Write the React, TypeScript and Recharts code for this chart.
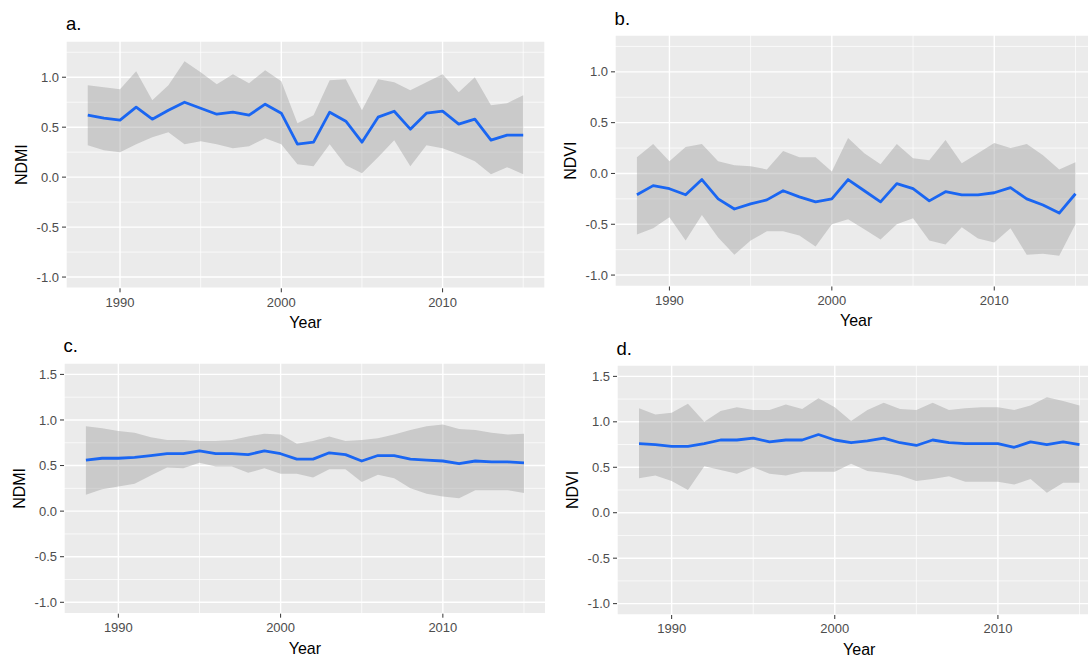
import {
  ComposedChart,
  Area,
  Line,
  XAxis,
  YAxis,
  CartesianGrid,
  ReferenceLine,
  Label,
} from "recharts";

const years = [
  1988, 1989, 1990, 1991, 1992, 1993, 1994, 1995, 1996, 1997, 1998, 1999, 2000, 2001,
  2002, 2003, 2004, 2005, 2006, 2007, 2008, 2009, 2010, 2011, 2012, 2013, 2014, 2015,
];

// a. NDMI (top left)
const aMean = [
  0.62, 0.59, 0.57, 0.7, 0.58, 0.67, 0.75, 0.69, 0.63, 0.65, 0.62, 0.73, 0.64, 0.33,
  0.35, 0.65, 0.56, 0.35, 0.6, 0.66, 0.48, 0.64, 0.66, 0.53, 0.58, 0.37, 0.42, 0.42,
];
const aHigh = [
  0.92, 0.9, 0.88, 1.06, 0.77, 0.92, 1.16, 1.05, 0.93, 1.03, 0.94, 1.07, 0.96, 0.54,
  0.62, 0.97, 0.98, 0.67, 0.98, 0.95, 0.87, 0.95, 1.03, 0.85, 1.0, 0.72, 0.74, 0.82,
];
const aLow = [
  0.32, 0.27, 0.25, 0.33, 0.4, 0.45, 0.33, 0.36, 0.33, 0.29, 0.31, 0.39, 0.33, 0.13,
  0.11, 0.33, 0.12, 0.04, 0.2, 0.37, 0.11, 0.32, 0.29, 0.23, 0.16, 0.03, 0.1, 0.03,
];

// b. NDVI (top right)
const bMean = [
  -0.21, -0.12, -0.15, -0.21, -0.06, -0.25, -0.35, -0.3, -0.26, -0.17, -0.23, -0.28,
  -0.25, -0.06, -0.17, -0.28, -0.1, -0.15, -0.27, -0.18, -0.21, -0.21, -0.19, -0.14,
  -0.25, -0.31, -0.39, -0.2,
];
const bHigh = [
  0.16, 0.29, 0.12, 0.26, 0.29, 0.12, 0.08, 0.07, 0.04, 0.22, 0.16, 0.16, 0.02, 0.35,
  0.2, 0.09, 0.29, 0.15, 0.13, 0.33, 0.1, 0.2, 0.3, 0.25, 0.29, 0.18, 0.04, 0.11,
];
const bLow = [
  -0.6, -0.54, -0.43, -0.66, -0.41, -0.63, -0.8, -0.66, -0.57, -0.57, -0.61, -0.72,
  -0.5, -0.45, -0.55, -0.65, -0.5, -0.44, -0.66, -0.7, -0.53, -0.64, -0.68, -0.54,
  -0.8, -0.79, -0.81, -0.5,
];

// c. NDMI (bottom left)
const cMean = [
  0.56, 0.58, 0.58, 0.59, 0.61, 0.63, 0.63, 0.66, 0.63, 0.63, 0.62, 0.66, 0.63, 0.57,
  0.57, 0.64, 0.62, 0.55, 0.61, 0.61, 0.57, 0.56, 0.55, 0.52, 0.55, 0.54, 0.54, 0.53,
];
const cHigh = [
  0.93, 0.91, 0.88, 0.86, 0.81, 0.78, 0.78, 0.77, 0.77, 0.78, 0.82, 0.85, 0.84, 0.74,
  0.77, 0.82, 0.77, 0.78, 0.8, 0.84, 0.89, 0.93, 0.95, 0.9, 0.89, 0.86, 0.84, 0.85,
];
const cLow = [
  0.18, 0.24, 0.27, 0.3, 0.39, 0.48, 0.47, 0.53, 0.49, 0.49, 0.42, 0.47, 0.41, 0.41,
  0.37, 0.46, 0.46, 0.32, 0.4, 0.36, 0.25, 0.19, 0.16, 0.14, 0.23, 0.23, 0.23, 0.2,
];

// d. NDVI (bottom right)
const dMean = [
  0.76, 0.75, 0.73, 0.73, 0.76, 0.8, 0.8, 0.82, 0.78, 0.8, 0.8, 0.86, 0.8, 0.77, 0.79,
  0.82, 0.77, 0.74, 0.8, 0.77, 0.76, 0.76, 0.76, 0.72, 0.78, 0.75, 0.78, 0.75,
];
const dHigh = [
  1.15, 1.08, 1.1, 1.2, 1.0, 1.12, 1.16, 1.13, 1.13, 1.19, 1.14, 1.26, 1.16, 1.01,
  1.13, 1.21, 1.14, 1.13, 1.21, 1.13, 1.15, 1.16, 1.16, 1.13, 1.18, 1.27, 1.23, 1.18,
];
const dLow = [
  0.38, 0.41, 0.35, 0.25, 0.51, 0.47, 0.43, 0.5, 0.43, 0.41, 0.45, 0.45, 0.45, 0.54,
  0.46, 0.44, 0.41, 0.35, 0.37, 0.4, 0.34, 0.34, 0.34, 0.31, 0.37, 0.22, 0.33, 0.33,
];

const xTicks = [1990, 2000, 2010];
const xMinor = [1995, 2005, 2015];
const yTicksTop = [-1, -0.5, 0, 0.5, 1];
const yTicksBottom = [-1, -0.5, 0, 0.5, 1, 1.5];
const yMinor = [-0.75, -0.25, 0.25, 0.75, 1.25];

const FONT = '"Liberation Sans", Arial, Helvetica, sans-serif';
const Y_AXIS_W = 70;
const X_AXIS_H = 50;

interface PanelProps {
  tag: string;
  yLabel: string;
  mean: number[];
  low: number[];
  high: number[];
  left: number;
  top: number;
  width: number;
  height: number;
  yDomain: [number, number];
  yTicks: number[];
}

function Panel({ tag, yLabel, mean, low, high, left, top, width, height, yDomain, yTicks }: PanelProps) {
  const data = years.map((year, i) => ({ year, mean: mean[i], band: [low[i], high[i]] }));

  return (
    <>
      <div
        style={{
          position: "absolute",
          left: left,
          top: top - 25.5,
          fontSize: 18.5,
          lineHeight: "18.5px",
          color: "#000",
        }}
      >
        {tag}
      </div>
      <div style={{ position: "absolute", left: left - Y_AXIS_W, top: top }}>
        <ComposedChart
          width={width + Y_AXIS_W}
          height={height + X_AXIS_H}
          data={data}
          margin={{ top: 0, right: 0, bottom: 0, left: 0 }}
        >
          <CartesianGrid fill="#EBEBEB" stroke="#FFFFFF" strokeWidth={1.4} />
          {yMinor
            .filter((v) => v < yDomain[1])
            .map((v) => (
              <ReferenceLine key={`my${v}`} y={v} stroke="#FFFFFF" strokeWidth={0.7} zIndex={-50} />
            ))}
          {xMinor.map((v) => (
            <ReferenceLine key={`mx${v}`} x={v} stroke="#FFFFFF" strokeWidth={0.7} zIndex={-50} />
          ))}
          <XAxis
            dataKey="year"
            type="number"
            domain={[1986.65, 2016.35]}
            allowDataOverflow
            ticks={xTicks}
            interval={0}
            height={X_AXIS_H}
            axisLine={false}
            tickSize={4}
            tickMargin={5}
            tickLine={{ stroke: "#333333" }}
            tick={{ fill: "#4D4D4D", fontSize: 13 }}
          >
            <Label
              content={(props: any) => {
                const vb = props.viewBox;
                return (
                  <text x={vb.x + vb.width / 2} y={vb.y + 40} textAnchor="middle" fontSize={16} fill="#000">
                    Year
                  </text>
                );
              }}
            />
          </XAxis>
          <YAxis
            type="number"
            domain={yDomain}
            allowDataOverflow
            ticks={yTicks}
            interval={0}
            width={Y_AXIS_W}
            axisLine={false}
            tickSize={4}
            tickMargin={3}
            tickLine={{ stroke: "#333333" }}
            tick={{ fill: "#4D4D4D", fontSize: 13 }}
            tickFormatter={(v: number) => v.toFixed(1)}
          >
            <Label
              content={(props: any) => {
                const vb = props.viewBox;
                const x = vb.x + vb.width - 39.3;
                const y = vb.y + vb.height / 2;
                return (
                  <text
                    x={x}
                    y={y}
                    textAnchor="middle"
                    fontSize={16}
                    fill="#000"
                    transform={`rotate(-90, ${x}, ${y})`}
                  >
                    {yLabel}
                  </text>
                );
              }}
            />
          </YAxis>
          <Area
            dataKey="band"
            type="linear"
            stroke="none"
            fill="#999999"
            fillOpacity={0.4}
            isAnimationActive={false}
            activeDot={false}
          />
          <Line
            dataKey="mean"
            type="linear"
            stroke="#1A66F2"
            strokeWidth={2.8}
            strokeLinejoin="round"
            dot={false}
            activeDot={false}
            isAnimationActive={false}
          />
        </ComposedChart>
      </div>
    </>
  );
}

export default function App() {
  return (
    <div
      style={{
        position: "absolute",
        left: 0,
        top: 0,
        width: 1088,
        height: 657,
        overflow: "hidden",
        background: "#FFFFFF",
        fontFamily: FONT,
      }}
    >
      <Panel
        tag="a."
        yLabel="NDMI"
        mean={aMean}
        low={aLow}
        high={aHigh}
        left={66}
        top={40.7}
        width={479}
        height={247.3}
        yDomain={[-1.1125, 1.3625]}
        yTicks={yTicksTop}
      />
      <Panel
        tag="b."
        yLabel="NDVI"
        mean={bMean}
        low={bLow}
        high={bHigh}
        left={614.6}
        top={35}
        width={482.4}
        height={251.5}
        yDomain={[-1.1125, 1.3625]}
        yTicks={yTicksTop}
      />
      <Panel
        tag="c."
        yLabel="NDMI"
        mean={cMean}
        low={cLow}
        high={cHigh}
        left={63.5}
        top={362.8}
        width={481.9}
        height={250.7}
        yDomain={[-1.125, 1.625]}
        yTicks={yTicksBottom}
      />
      <Panel
        tag="d."
        yLabel="NDVI"
        mean={dMean}
        low={dLow}
        high={dHigh}
        left={616.5}
        top={365}
        width={484.5}
        height={250}
        yDomain={[-1.125, 1.625]}
        yTicks={yTicksBottom}
      />
    </div>
  );
}
